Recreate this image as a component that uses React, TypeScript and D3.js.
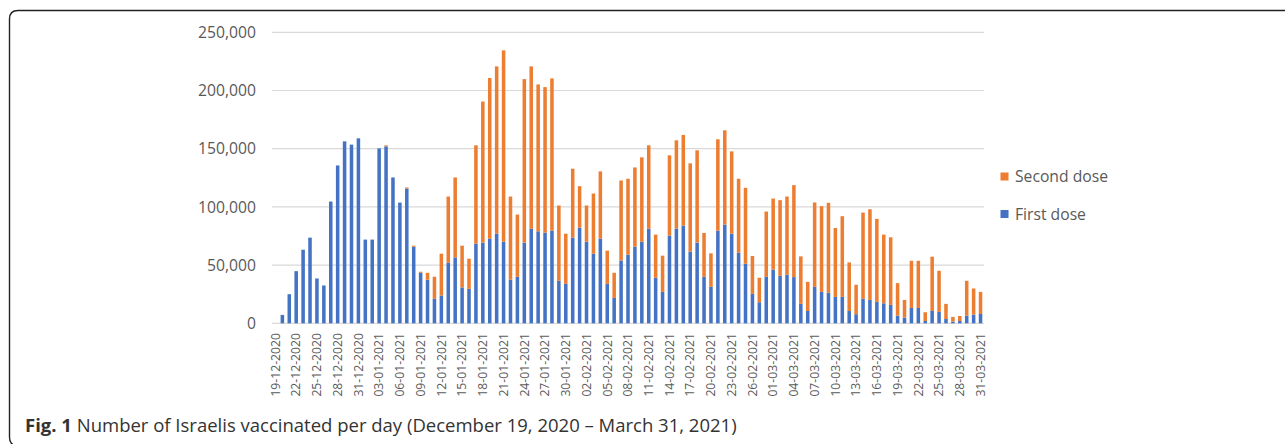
import React from "react";
import * as d3 from "d3";

const startDate = new Date(2020, 11, 19);
const endDate = new Date(2021, 3, 1);
const days: Date[] = d3.timeDay.range(startDate, endDate);
const fmt = d3.timeFormat("%d-%m-%Y");

const firstDose = [
  0, 7200, 25000, 44800, 63200, 73600, 38500, 32500, 104600, 135600,
  156300, 153500, 158900, 71900, 71900, 150300, 152000, 125300, 103700, 115800,
  65800, 43400, 37400, 21000, 23900, 52000, 56600, 30800, 29600, 68400,
  69300, 72700, 77000, 70100, 37600, 39900, 69300, 81300, 79000, 77900,
  79600, 36500, 33900, 73600, 82200, 70100, 59800, 72700, 33900, 21800,
  54000, 58900, 65800, 70100, 81300, 39100, 27000, 75300, 81300, 83900,
  61500, 69300, 39900, 31300, 79600, 84800, 77000, 60600, 51200, 25300,
  18100, 39900, 46000, 40800, 41700, 39700, 16700, 10600, 31300, 27000,
  26200, 22700, 22700, 10600, 7800, 21000, 20100, 18400, 17200, 15800,
  6600, 4900, 13200, 13200, 2000, 10600, 9800, 3700, 1400, 2000,
  6600, 7500, 8000,
];

const secondDose = [
  0, 0, 0, 0, 0, 0, 0, 0, 0, 0,
  0, 0, 0, 0, 0, 0, 900, 0, 0, 900,
  900, 900, 6000, 19000, 35900, 56900, 68700, 35900, 25900, 84500,
  121200, 138000, 143700, 164400, 71300, 53500, 140500, 139400, 126200, 125000,
  130800, 64700, 43100, 59200, 35600, 31100, 51700, 57800, 28500, 21600,
  68700, 65300, 68100, 72500, 71600, 37100, 31100, 69000, 75900, 77900,
  75900, 79300, 37700, 28800, 78500, 81000, 70700, 63600, 65200, 32500,
  21000, 56100, 61200, 65000, 67200, 79000, 40800, 25000, 72500, 73600,
  77300, 59200, 69300, 41700, 25300, 74100, 77900, 71300, 59000, 58100,
  27900, 15200, 40500, 40500, 7500, 46600, 35300, 13000, 4100, 4300,
  29900, 22400, 19000,
];

const yTicks = [0, 50000, 100000, 150000, 200000, 250000];
const seriesNames = ["Second dose", "First dose"];
const seriesColors = ["#ED7D31", "#4472C4"];
const captionBold = "Fig. 1";
const captionText = "Number of Israelis vaccinated per day (December 19, 2020 – March 31, 2021)";

const W = 1285;
const H = 444;
const FONT = "'Open Sans', 'Noto Sans', sans-serif";

export default function App() {
  const x = d3
    .scaleBand<string>()
    .domain(days.map((d) => fmt(d)))
    .range([272, 984])
    .paddingInner(0.49)
    .paddingOuter(0.245);
  const y = d3.scaleLinear().domain([0, 250000]).range([323.3, 32.3]);
  const bw = x.bandwidth();
  const labelDays = days.filter((_, i) => i % 3 === 0);

  return (
    <svg
      width={W}
      height={H}
      style={{ position: "absolute", left: 0, top: 0, background: "#fff" }}
      fontFamily={FONT}
    >
      <rect x={0} y={0} width={W} height={H} fill="#fff" />
      {/* frame */}
      <path
        d={`M ${W + 10} 10.5 H 18 Q 9.5 10.5 9.5 19 V 437 Q 9.5 445.8 18 445.8 H ${W + 10}`}
        fill="none"
        stroke="#222"
        strokeWidth={1.4}
      />
      {/* gridlines */}
      {yTicks.map((t) => (
        <line
          key={t}
          x1={272}
          x2={984}
          y1={y(t)}
          y2={y(t)}
          stroke="#d9d9d9"
          strokeWidth={1.2}
        />
      ))}
      {/* y labels */}
      {yTicks.map((t) => (
        <text
          key={"l" + t}
          x={256}
          y={y(t)}
          dy="0.36em"
          textAnchor="end"
          fontSize={15.7}
          fill="#595959"
        >
          {d3.format(",")(t)}
        </text>
      ))}
      {/* bars */}
      {days.map((d, i) => {
        const k = fmt(d);
        const bx = x(k)!;
        const f = firstDose[i];
        const s = secondDose[i];
        return (
          <g key={k}>
            <rect
              x={bx}
              y={y(f)}
              width={bw}
              height={y(0) - y(f)}
              fill={seriesColors[1]}
            />
            <rect
              x={bx}
              y={y(f + s)}
              width={bw}
              height={y(f) - y(f + s)}
              fill={seriesColors[0]}
            />
          </g>
        );
      })}
      {/* x labels */}
      {labelDays.map((d) => {
        const k = fmt(d);
        const cx = x(k)! + bw / 2;
        return (
          <text
            key={"x" + k}
            transform={`translate(${cx},333) rotate(-90)`}
            textAnchor="end"
            dy="0.35em"
            fontSize={12.2}
            fill="#595959"
          >
            {k}
          </text>
        );
      })}
      {/* legend */}
      {seriesNames.map((n, i) => (
        <g key={n} transform={`translate(1000.5, ${172.5 + i * 37.5})`}>
          <rect x={0} y={0} width={8} height={8} fill={seriesColors[i]} />
          <text x={14.5} y={4} dy="0.36em" fontSize={15.7} fill="#595959">
            {n}
          </text>
        </g>
      ))}
      {/* caption */}
      <text x={25} y={431.5} fontSize={18.5} fill="#333">
        <tspan fontWeight="bold">{captionBold}</tspan>
        <tspan> {captionText}</tspan>
      </text>
    </svg>
  );
}
